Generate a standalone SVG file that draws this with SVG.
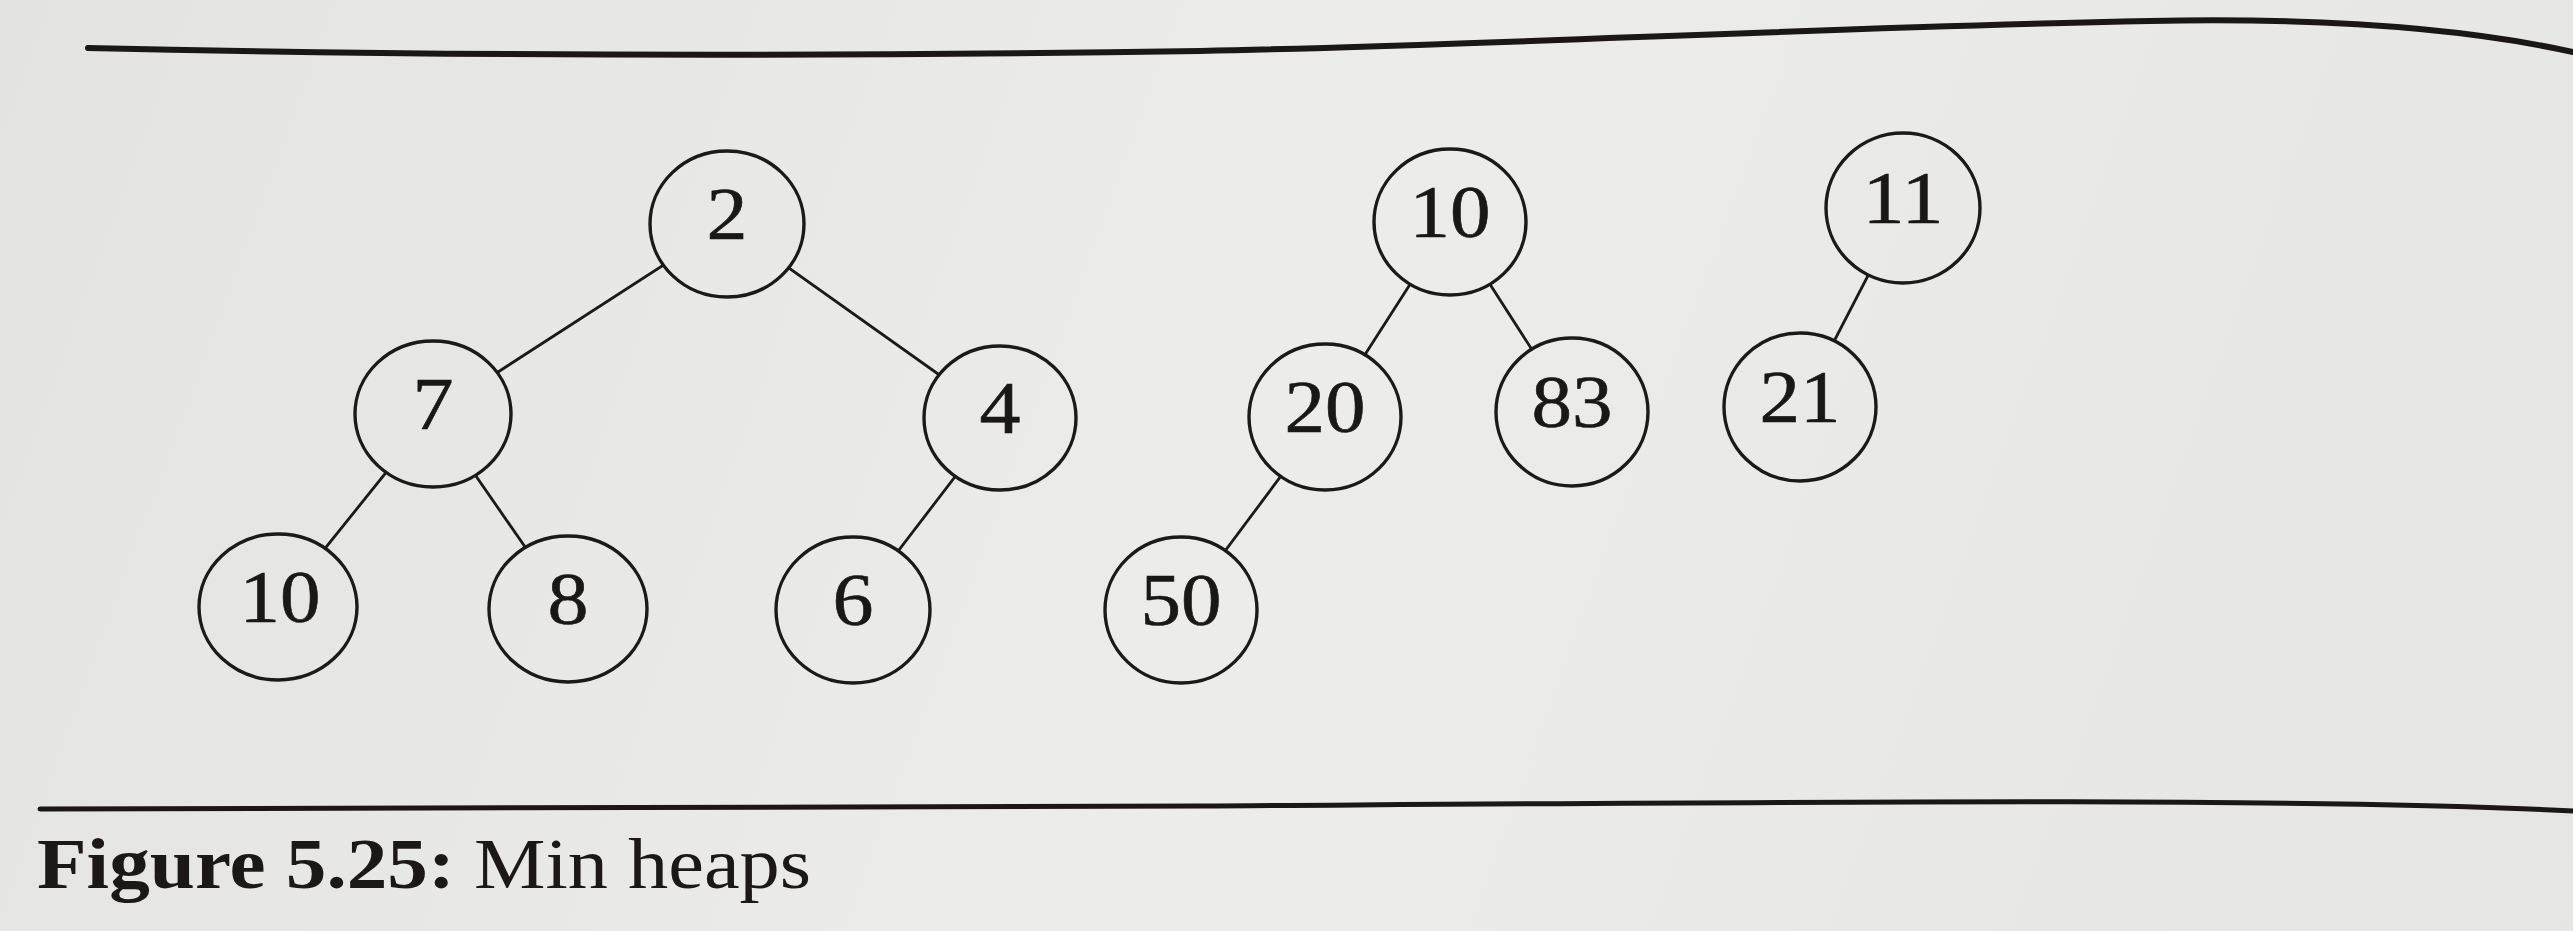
<svg xmlns="http://www.w3.org/2000/svg" width="2573" height="931" viewBox="0 0 2573 931">
<defs>
<linearGradient id="bg" gradientUnits="userSpaceOnUse" x1="0" y1="0" x2="2573" y2="931">
<stop offset="0" stop-color="#e3e3e1"/>
<stop offset="0.5" stop-color="#ecedeb"/>
<stop offset="1" stop-color="#e5e5e3"/>
</linearGradient>
<style>
.node ellipse{fill:url(#bg);stroke:#1c1a19;stroke-width:3.4}
.node text{font-family:"Liberation Serif","Times New Roman",serif;font-size:74px;fill:#1a1817;stroke:#1a1817;stroke-width:0.6;text-anchor:middle}
.edge{stroke:#1c1a19;stroke-width:2.8;fill:none}
.rule{stroke:#1a1715;fill:none;stroke-linecap:round}
.cap{font-family:"Liberation Serif","Times New Roman",serif;font-size:72px;fill:#1c1816}
</style>
</defs>
<rect x="0" y="0" width="2573" height="931" fill="url(#bg)"/>
<path class="rule" stroke-width="6" d="M88,48 C400,55 800,57 1200,51 C1500,45 1800,28 2150,21 C2300,18 2450,25 2573,52"/>
<path class="rule" stroke-width="5" d="M40,809 L1200,806 C1800,802 2300,797 2573,811"/>
<g id="connectors">
<line class="edge" x1="727" y1="224" x2="433" y2="414"/>
<line class="edge" x1="727" y1="224" x2="1000" y2="418"/>
<line class="edge" x1="433" y1="414" x2="278" y2="607"/>
<line class="edge" x1="433" y1="414" x2="568" y2="609"/>
<line class="edge" x1="1000" y1="418" x2="853" y2="610"/>
<line class="edge" x1="1450" y1="222" x2="1325" y2="417"/>
<line class="edge" x1="1450" y1="222" x2="1572" y2="412"/>
<line class="edge" x1="1325" y1="417" x2="1181" y2="610"/>
<line class="edge" x1="1903" y1="208" x2="1800" y2="407"/>
</g>
<g id="n2" class="node"><ellipse cx="727" cy="224" rx="77" ry="73"/><text x="727" y="239" textLength="41" lengthAdjust="spacingAndGlyphs">2</text></g>
<g id="n7" class="node"><ellipse cx="433" cy="414" rx="78" ry="73"/><text x="433" y="429" textLength="41" lengthAdjust="spacingAndGlyphs">7</text></g>
<g id="n4" class="node"><ellipse cx="1000" cy="418" rx="76" ry="72"/><text x="1000" y="433" textLength="41" lengthAdjust="spacingAndGlyphs">4</text></g>
<g id="n10a" class="node"><ellipse cx="278" cy="607" rx="79" ry="73"/><text x="280" y="622" textLength="81" lengthAdjust="spacingAndGlyphs">10</text></g>
<g id="n8" class="node"><ellipse cx="568" cy="609" rx="79" ry="73"/><text x="568" y="624" textLength="41" lengthAdjust="spacingAndGlyphs">8</text></g>
<g id="n6" class="node"><ellipse cx="853" cy="610" rx="77" ry="73"/><text x="853" y="625" textLength="41" lengthAdjust="spacingAndGlyphs">6</text></g>
<g id="n10b" class="node"><ellipse cx="1450" cy="222" rx="76" ry="73"/><text x="1450" y="237" textLength="81" lengthAdjust="spacingAndGlyphs">10</text></g>
<g id="n20" class="node"><ellipse cx="1325" cy="417" rx="76" ry="73"/><text x="1325" y="432" textLength="81" lengthAdjust="spacingAndGlyphs">20</text></g>
<g id="n83" class="node"><ellipse cx="1572" cy="412" rx="76" ry="74"/><text x="1572" y="427" textLength="81" lengthAdjust="spacingAndGlyphs">83</text></g>
<g id="n50" class="node"><ellipse cx="1181" cy="610" rx="76" ry="73"/><text x="1181" y="625" textLength="81" lengthAdjust="spacingAndGlyphs">50</text></g>
<g id="n11" class="node"><ellipse cx="1903" cy="208" rx="77" ry="75"/><text x="1903" y="223" textLength="81" lengthAdjust="spacingAndGlyphs">11</text></g>
<g id="n21" class="node"><ellipse cx="1800" cy="407" rx="76" ry="74"/><text x="1800" y="422" textLength="81" lengthAdjust="spacingAndGlyphs">21</text></g>
<g id="caption">
<text class="cap" x="37" y="888" font-weight="bold" textLength="418" lengthAdjust="spacingAndGlyphs">Figure 5.25:</text>
<text class="cap" x="474" y="888" textLength="337" lengthAdjust="spacingAndGlyphs">Min heaps</text>
</g>
</svg>
